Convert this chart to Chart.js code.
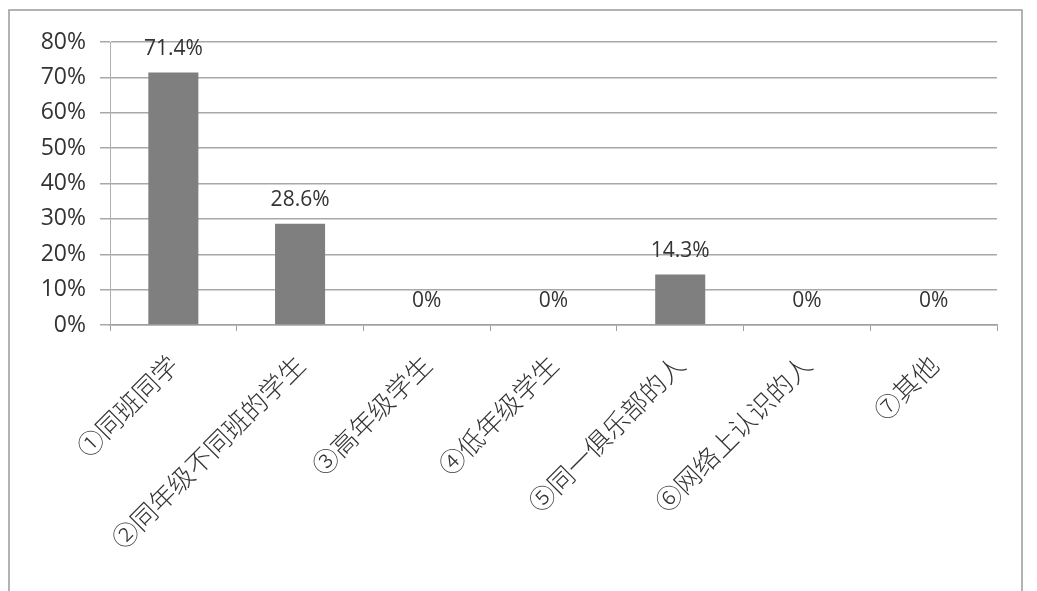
<!DOCTYPE html>
<html>
<head>
<meta charset="utf-8">
<script src="https://cdn.jsdelivr.net/npm/chart.js@4.4.1/dist/chart.umd.min.js"></script>
<style>
  html, body { margin: 0; padding: 0; background: #fff; }
  #wrap { position: relative; width: 1037px; height: 591px; }
</style>
</head>
<body>
<div id="wrap">
  <canvas id="myChart" width="1037" height="591"></canvas>
</div>
<script>
// chart data
const categories = ['①同班同学', '②同年级不同班的学生', '③高年级学生', '④低年级学生', '⑤同一俱乐部的人', '⑥网络上认识的人', '⑦其他'];
const shares = [71.4, 28.6, 0, 0, 14.3, 0, 0];
const valueLabels = ['71.4%', '28.6%', '0%', '0%', '14.3%', '0%', '0%'];
const yTicks = [0, 10, 20, 30, 40, 50, 60, 70, 80];

// frame around the whole chart, like the scanned figure
const framePlugin = {
  id: 'frame',
  beforeDraw(chart) {
    const ctx = chart.ctx;
    ctx.save();
    ctx.strokeStyle = '#9a9a9a';
    ctx.lineWidth = 1.5;
    ctx.beginPath();
    ctx.moveTo(9, 600);
    ctx.lineTo(9, 10);
    ctx.lineTo(1022, 10);
    ctx.lineTo(1022, 600);
    ctx.stroke();
    ctx.restore();
  }
};

// value labels above bars
const valueLabelPlugin = {
  id: 'valueLabels',
  afterDatasetsDraw(chart) {
    const ctx = chart.ctx;
    const meta = chart.getDatasetMeta(0);
    ctx.save();
    ctx.font = '21px "Open Sans", sans-serif';
    ctx.fillStyle = '#333';
    ctx.textAlign = 'center';
    ctx.textBaseline = 'bottom';
    meta.data.forEach((bar, i) => {
      ctx.fillText(valueLabels[i], bar.x, bar.y - 13);
    });
    ctx.restore();
  }
};

new Chart(document.getElementById('myChart'), {
  type: 'bar',
  data: {
    labels: categories,
    datasets: [{
      data: shares,
      backgroundColor: '#7f7f7f',
      borderWidth: 0,
      categoryPercentage: 1,
      barPercentage: 0.395
    }]
  },
  options: {
    responsive: false,
    animation: false,
    layout: { padding: { left: 0, right: 40, top: 42, bottom: 0 } },
    plugins: {
      legend: { display: false },
      tooltip: { enabled: false }
    },
    scales: {
      x: {
        afterFit(scale) { scale.height = 266; },
        grid: {
          offset: true,
          drawOnChartArea: false,
          color: '#a0a0a0',
          tickLength: 6
        },
        border: { color: '#a0a0a0', width: 1.5 },
        ticks: {
          minRotation: 45,
          maxRotation: 45,
          padding: 18,
          color: '#333',
          font: { family: '"Noto Sans CJK SC", sans-serif', size: 26, weight: 300 }
        }
      },
      y: {
        min: 0,
        max: 80,
        afterFit(scale) { scale.width = 110; },
        afterBuildTicks(scale) { scale.ticks = yTicks.map(v => ({ value: v })); },
        grid: {
          color: '#a8a8a8',
          lineWidth: 1.5,
          tickLength: 10
        },
        border: { color: '#b0b0b0', width: 1 },
        ticks: {
          padding: 14,
          color: '#333',
          font: { family: '"Open Sans", sans-serif', size: 23 },
          callback: v => v + '%'
        }
      }
    }
  },
  plugins: [framePlugin, valueLabelPlugin]
});
</script>
</body>
</html>
